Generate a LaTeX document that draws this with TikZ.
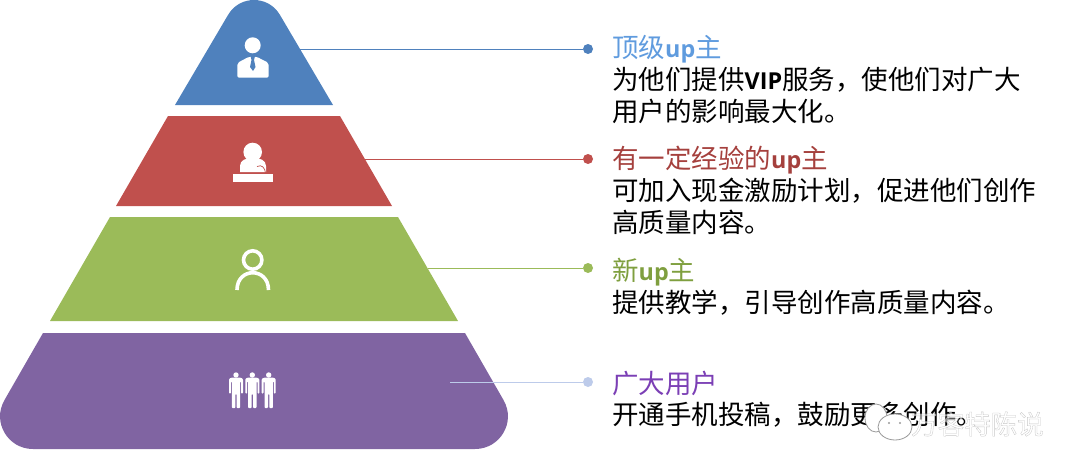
\documentclass[tikz,border=0pt]{standalone}
\usepackage{fontspec}
\setmainfont{Noto Sans CJK SC}
\newfontfamily\latinbold[Scale=0.88]{Open Sans}
\newfontfamily\markfont[FakeBold=1.2]{Noto Sans CJK SC}
\definecolor{tierblue}{HTML}{4F81BD}
\definecolor{tierred}{HTML}{C0504D}
\definecolor{tiergreen}{HTML}{9BBB59}
\definecolor{tierpurple}{HTML}{8064A2}
\definecolor{dotpale}{HTML}{BDCBEA}
\definecolor{headblue}{HTML}{5F9BDE}
\definecolor{headred}{HTML}{A5403D}
\definecolor{headgreen}{HTML}{7F9F3F}
\definecolor{headpurple}{HTML}{7B3FB5}
\newcommand{\lat}[1]{{\latinbold\bfseries #1}}
\begin{document}
\begin{tikzpicture}[x=1pt, y=-1pt,
      every node/.style = {inner sep=0pt, align=left, font=\fontsize{26.5}{32}\selectfont},
      headtext/.style = {anchor=west},
      bodytext/.style = {anchor=north west},
      tierdot/.style = {shape=circle, minimum size=10pt},
      leader/.style = {line width=0.8pt}]
    \useasboundingbox (0,0) rectangle (1080,471);
    \fill[tierblue] (175,105) -- (228,15) .. controls (239.5,-5) and (268.5,-5) .. (280,15) -- (333,105) -- cycle;
    \fill[tierred] (168,116) -- (340,116) -- (392,206) -- (116,206) -- cycle;
    \fill[tiergreen] (110,217) -- (398,217) -- (458,321) -- (50,321) -- cycle;
    \fill[tierpurple] (43,333) -- (465,333) -- (503.5,400) .. controls (516.2,421.9) and (500.3,449) .. (475,449) -- (33,449) .. controls (7.7,449) and (-8.2,421.9) .. (4.5,400) -- cycle;

    \fill[white] (252.7,45.3) circle (8);
    \fill[white, rounded corners=2pt] (237.3,77.7) -- (237.3,63) -- (249,56.7) -- (256.5,56.7) -- (268.7,63) -- (268.7,77.7) -- cycle;
    \fill[tierblue] (250.5,56) -- (255,56) -- (254,60) -- (255.5,67) -- (253,71) -- (250,67) -- (251.5,60) -- cycle;
    \fill[white] (252.7,152) circle (9.3);
    \fill[white] (240,172) -- (240,166) .. controls (240,160) and (246,158) .. (252.7,158) .. controls (260,158) and (266,160) .. (266,166) -- (266,172) -- cycle;
    \fill[white] (232.7,174) rectangle (273.3,181.7);
    \draw[tierred, line width=0.7pt] (257,166.5) .. controls (262,164) and (265,168) .. (265.5,173);
    \draw[white, line width=3.6pt] (252.7,260) circle (9.2);
    \draw[white, line width=3.6pt] (237,290) .. controls (237,267) and (268.5,267) .. (268.5,290);
    \foreach \x in {236,252.3,268.7} {
      \fill[white] (\x,375) circle (2.7);
      \fill[white, rounded corners=0.8pt] (\x-7,379) -- (\x-5,377.7) -- (\x+5,377.7) -- (\x+7,379) -- (\x+7,393.5) -- (\x+5.2,393.5) -- (\x+5.2,381.5) -- (\x+4.2,381.5) -- (\x+4.2,408) -- (\x+0.7,408) -- (\x+0.7,394) -- (\x-0.7,394) -- (\x-0.7,408) -- (\x-4.2,408) -- (\x-4.2,381.5) -- (\x-5.2,381.5) -- (\x-5.2,393.5) -- (\x-7,393.5) -- cycle;
    }

    \coordinate (topstart) at (300,49);
    \coordinate (midstart) at (365,159);
    \coordinate (newstart) at (428,268);
    \coordinate (allstart) at (450,382);
    \node[tierdot, fill=tierblue] (topdot) at (588,49) {};
    \node[tierdot, fill=tierred] (middot) at (588,159) {};
    \node[tierdot, fill=tiergreen] (newdot) at (588,268) {};
    \node[tierdot, fill=dotpale] (alldot) at (588,382) {};
    \draw[leader, tierblue] (topstart) -- (topdot);
    \draw[leader, tierred] (midstart) -- (middot);
    \draw[leader, tiergreen] (newstart) -- (newdot);
    \draw[leader, dotpale] (allstart) -- (alldot);

    \node[headtext, text=headblue] (tophead) at (612,49) {顶级\lat{up}主};
    \node[bodytext] (topbody) at (612,66.5) {为他们提供\lat{VIP}服务，使他们对广大\\用户的影响最大化。};
    \node[headtext, text=headred] (midhead) at (612,160) {有一定经验的\lat{up}主};
    \node[bodytext] (midbody) at (612,178) {可加入现金激励计划，促进他们创作\\高质量内容。};
    \node[headtext, text=headgreen] (newhead) at (612,272) {新\lat{up}主};
    \node[bodytext] (newbody) at (612,289.5) {提供教学，引导创作高质量内容。};
    \node[headtext, text=headpurple] (allhead) at (612,383) {广大用户};
    \node[bodytext] (allbody) at (612,401.5) {开通手机投稿，鼓励更多创作。};

    \fill[white, draw=black!40, line width=0.8pt] (876,418) ellipse (11 and 14);
    \fill[white, draw=black!40, line width=0.8pt] (895,427) ellipse (17 and 13);
    \fill[black!40] (889,423) circle (1.2) (900,423) circle (1.2);
    \node[anchor=west, opacity=0.55] (markname) at (911,424) {\markfont\special{pdf:bc [1 1 1] [0.6 0.6 0.6]}万客特陈说\special{pdf:ec}};
\end{tikzpicture}
\end{document}
